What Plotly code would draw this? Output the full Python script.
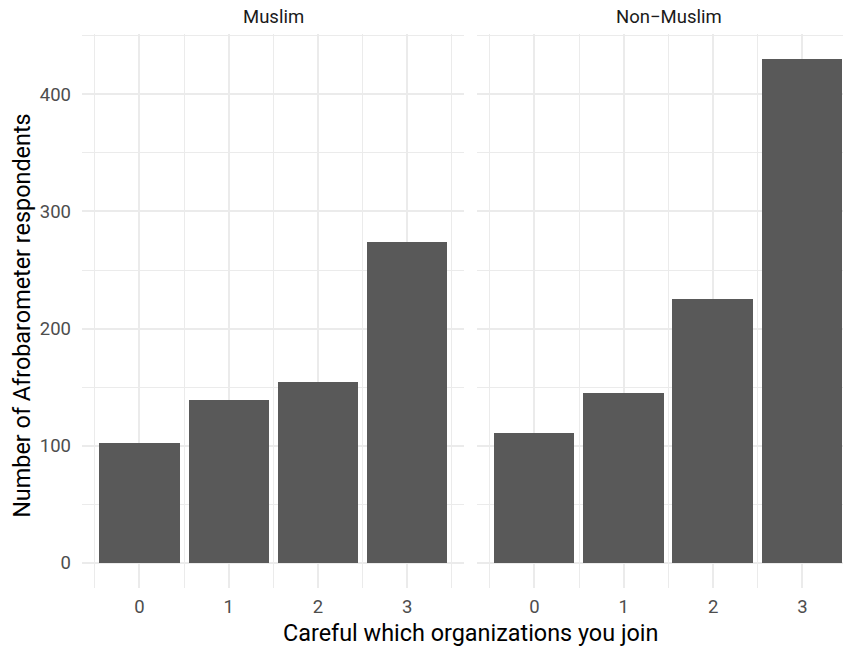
import plotly.graph_objects as go

categories = [0, 1, 2, 3]
tick_labels = ["0", "1", "2", "3"]
muslim = [102, 139, 154, 274]
non_muslim = [111, 145, 225, 430]
panels = ["Muslim", "Non\u2212Muslim"]
y_ticks = [0, 100, 200, 300, 400]

# the page body adds an 8px offset; work in page pixels and convert
OFF = 8
W, H = 851 - OFF, 649 - OFF
L = 81.7 - OFF
T = 34 - OFF
R = 0
B = H - (588 - OFF)
pw = W - L - R
ph = H - T - B

def px_x(p):
    return (p - OFF - L) / pw

def px_y(p):
    return (H - B - (p - OFF)) / ph

BAR = "#595959"
GRID = "#EBEBEB"
FONT = "Roboto"
TICK = 18.5
TITLE = 23.4

fig = go.Figure()
fig.add_trace(go.Bar(x=categories, y=muslim, width=0.9, marker=dict(color=BAR, line=dict(width=0)),
                     xaxis="x", yaxis="y", showlegend=False))
fig.add_trace(go.Bar(x=categories, y=non_muslim, width=0.9, marker=dict(color=BAR, line=dict(width=0)),
                     xaxis="x2", yaxis="y2", showlegend=False))

xcommon = dict(
    tickmode="array", tickvals=categories, ticktext=tick_labels,
    showgrid=True, gridcolor=GRID, gridwidth=2, zeroline=False, showline=False,
    ticks="", tickfont=dict(family=FONT, size=TICK, color="#4D4D4D"),
    ticklabelstandoff=5,
    minor=dict(tickmode="array", tickvals=[-0.5, 0.5, 1.5, 2.5, 3.5], showgrid=True,
               gridcolor=GRID, gridwidth=1, ticks=""),
)
ycommon = dict(
    range=[-21.5, 451.5], tickmode="array", tickvals=y_ticks,
    showgrid=True, gridcolor=GRID, gridwidth=2, zeroline=False, showline=False,
    ticks="", tickfont=dict(family=FONT, size=TICK, color="#4D4D4D"),
    minor=dict(tickmode="array", tickvals=[50, 150, 250, 350, 450], showgrid=True,
               gridcolor=GRID, gridwidth=1, ticks=""),
)

left_end = px_x(464.3)
right_start = px_x(477.3)

fig.update_layout(
    width=W, height=H,
    margin=dict(l=L, r=R, t=T, b=B, pad=0, autoexpand=False),
    paper_bgcolor="white", plot_bgcolor="white",
    font=dict(family=FONT),
    bargap=0,
    xaxis=dict(domain=[0, left_end], range=[-0.644, 3.641], anchor="y", **xcommon),
    yaxis=dict(domain=[0, 1], anchor="x", ticklabelstandoff=10, showticklabels=True, **ycommon),
    xaxis2=dict(domain=[right_start, 1], range=[-0.638, 3.543], anchor="y2", **xcommon),
    yaxis2=dict(domain=[0, 1], anchor="x2", showticklabels=False, **ycommon),
    showlegend=False,
)

annotations = [
    dict(text=panels[0], x=px_x(273.0), y=px_y(17), xref="paper", yref="paper",
         showarrow=False, xanchor="center", yanchor="middle",
         font=dict(family=FONT, size=TICK, color="#1A1A1A")),
    dict(text=panels[1], x=px_x(668.6), y=px_y(17), xref="paper", yref="paper",
         showarrow=False, xanchor="center", yanchor="middle",
         font=dict(family=FONT, size=TICK, color="#1A1A1A")),
    dict(text="Careful which organizations you join", x=px_x(470.8), y=px_y(633),
         xref="paper", yref="paper", showarrow=False, xanchor="center", yanchor="middle",
         font=dict(family=FONT, size=TITLE, color="black")),
    dict(text="Number of Afrobarometer respondents", x=px_x(21), y=px_y(315.5),
         xref="paper", yref="paper", showarrow=False, xanchor="center", yanchor="middle",
         textangle=-90, font=dict(family=FONT, size=TITLE, color="black")),
]
fig.update_layout(annotations=annotations)

fig.write_html("out.html")
